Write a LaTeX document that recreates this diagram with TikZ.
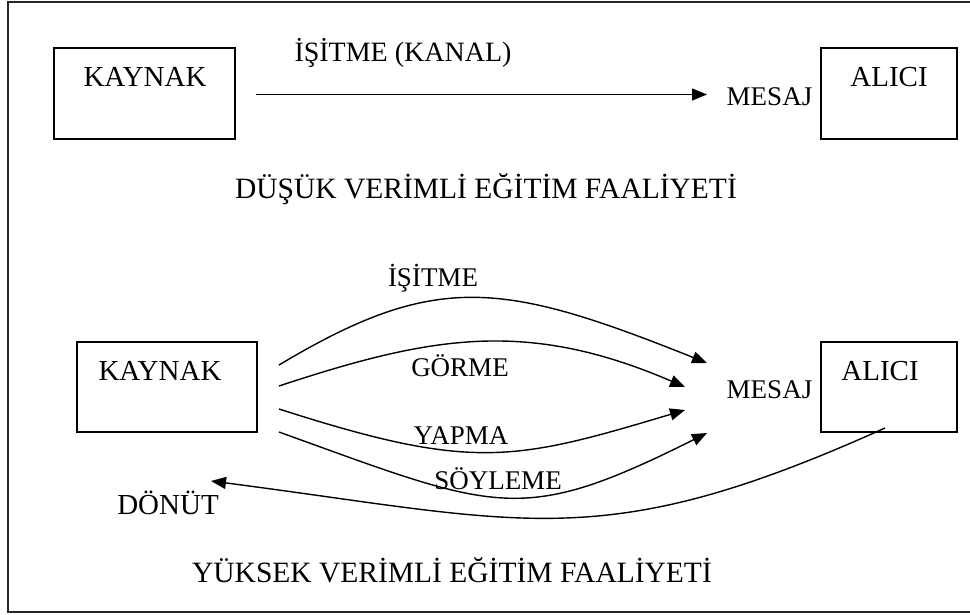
\documentclass[tikz,border=0pt]{standalone}
\usepackage{fontspec}
\setmainfont{Liberation Serif}
\usetikzlibrary{arrows.meta}
\begin{document}
\begin{tikzpicture}[x=1pt,y=-1pt,
  boxnode/.style={draw,line width=1.6pt,inner sep=0pt,minimum width=#1,minimum height=91pt},
  big/.style={font=\fontsize{29}{30}\selectfont,inner sep=0pt,anchor=base},
  mid/.style={font=\fontsize{27}{28}\selectfont,inner sep=0pt,anchor=base},
  conn/.style={line width=1.4pt,-{Triangle[length=15pt,width=12pt]}}
]
\useasboundingbox (0,0) rectangle (970,614);
% outer frame (right side lies outside the picture)
\draw[line width=2pt,black!85] (990,2) -- (7.5,2) -- (7.5,612) -- (990,612);

% ---------- top part ----------
\node[boxnode=181pt] (kayA) at (144.5,93.5) {};
\node[boxnode=136pt] (aliA) at (889,93.5) {};
\node[big] (tkayA) at (145,86) {KAYNAK};
\node[big] (taliA) at (889,86) {ALICI};
\node[mid] (mesA) at (769.5,105) {MESAJ};
\node[font=\fontsize{28}{29}\selectfont,inner sep=0pt,anchor=base] (kanal) at (403,61) {İŞİTME (KANAL)};
\coordinate (a0) at (256,94.5);
\coordinate (a1) at (707,94.5);
\draw[conn] (a0) -- (a1);
\node[font=\fontsize{29.5}{30}\selectfont,inner sep=0pt,anchor=base] (dusuk) at (486,198) {DÜŞÜK VERİMLİ EĞİTİM FAALİYETİ};

% ---------- bottom part ----------
\node[boxnode=180pt,minimum height=90pt] (kayB) at (167,387) {};
\node[boxnode=136pt,minimum height=90pt] (aliB) at (889,387) {};
\node[big] (tkayB) at (160,380) {KAYNAK};
\node[big] (taliB) at (880,380) {ALICI};
\node[mid] (mesB) at (769.5,398) {MESAJ};

\coordinate (s1) at (279,365);
\coordinate (e1) at (707,363);
\coordinate (s2) at (279,386);
\coordinate (e2) at (685,387);
\coordinate (s3) at (279,409);
\coordinate (e3) at (685,410);
\coordinate (s4) at (279,432);
\coordinate (e4) at (707,433);
\coordinate (f0) at (885,428);
\coordinate (f1) at (211,481);

\draw[conn] (s1) .. controls (436,271) and (502,281) .. (e1);
\draw[conn] (s2) .. controls (432,335.5) and (527,319) .. (e2);
\draw[conn] (s3) .. controls (472,471) and (513,461.6) .. (e3);
\draw[conn] (s4) .. controls (498,511) and (520,526.5) .. (e4);
\draw[conn] (f0) .. controls (601,556) and (527,522) .. (f1);

\node[mid] (l1) at (433,286) {İŞİTME};
\node[mid] (l2) at (460,376) {GÖRME};
\node[mid] (l3) at (461,444) {YAPMA};
\node[mid] (l4) at (498,489) {SÖYLEME};
\node[big] (donut) at (168,514) {DÖNÜT};
\node[font=\fontsize{29.5}{30}\selectfont,inner sep=0pt,anchor=base] (yuksek) at (452,582) {YÜKSEK VERİMLİ EĞİTİM FAALİYETİ};
\end{tikzpicture}
\end{document}
